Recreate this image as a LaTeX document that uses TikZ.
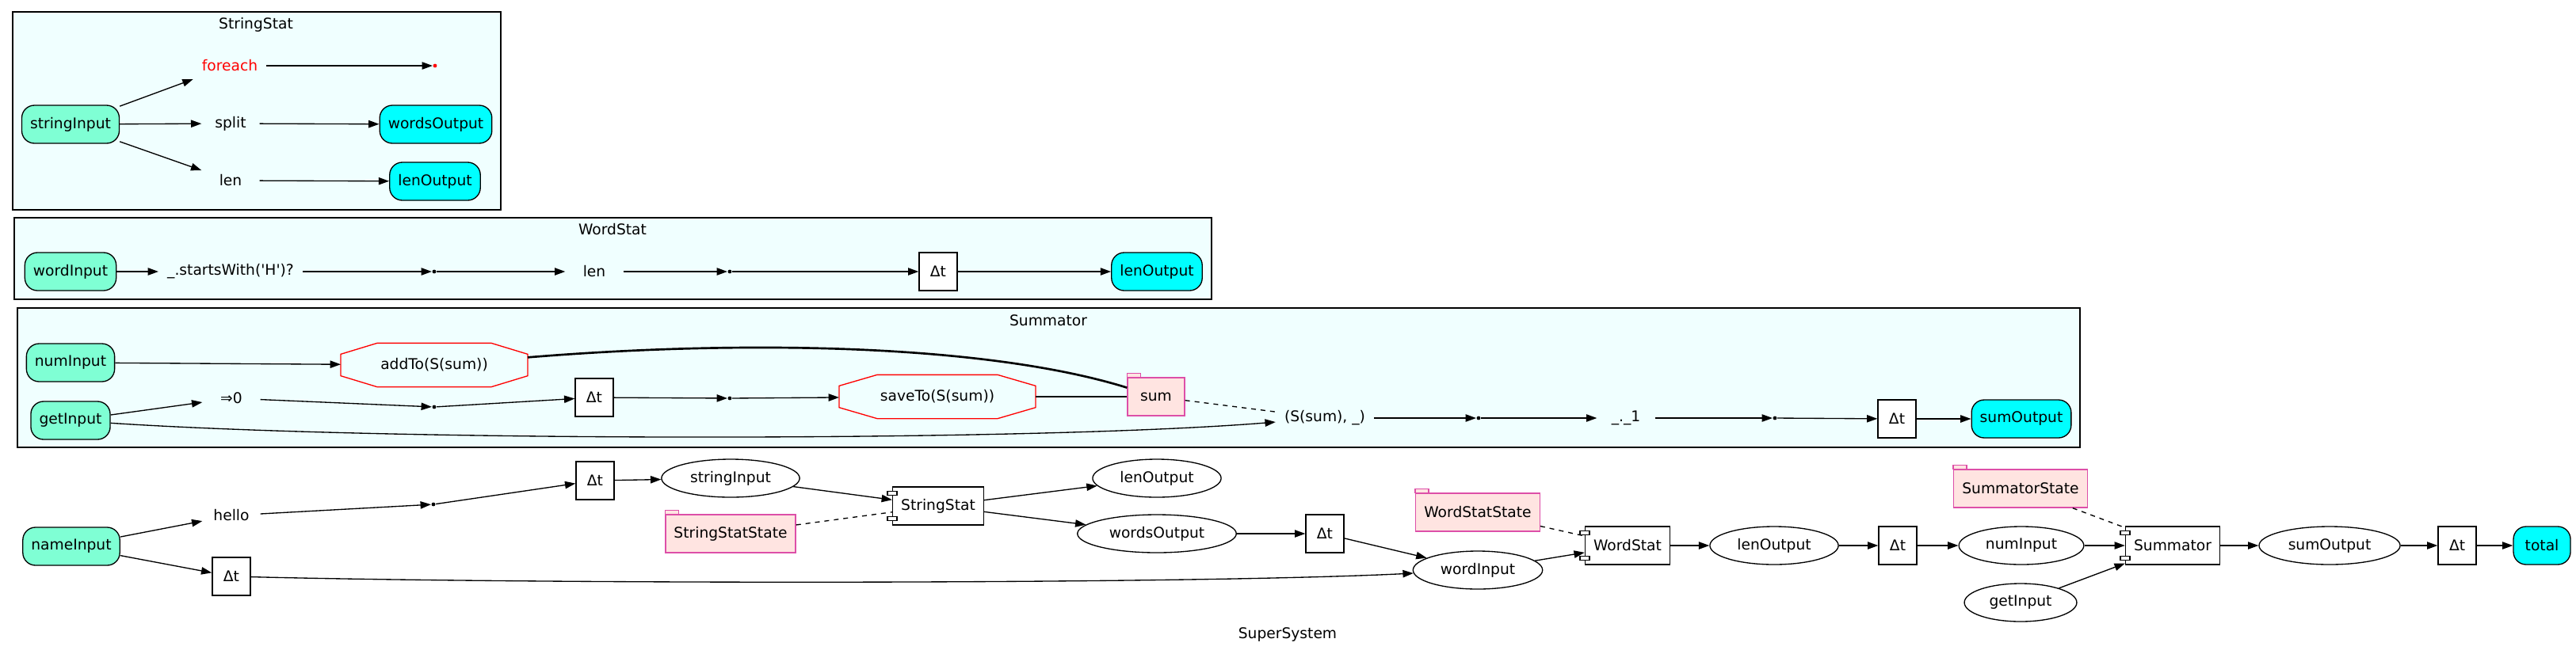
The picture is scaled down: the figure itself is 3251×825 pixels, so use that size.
\documentclass[tikz,border=0pt]{standalone}
\usepackage{fontspec}
\setmainfont{DejaVu Sans}
\usetikzlibrary{arrows.meta,shapes.geometric}
\definecolor{azure}{HTML}{F0FFFF}
\definecolor{aquamarine}{HTML}{7FFFD4}
\definecolor{aqua}{HTML}{00FFFF}
\definecolor{mistyrose}{HTML}{FFE4E1}
\definecolor{statepink}{HTML}{DD4FA8}
\begin{document}
\begin{tikzpicture}[x=0.75bp,y=-0.75bp,line width=1bp,->,>={Triangle[length=10bp,width=7bp]},
  lbl/.style={font=\fontsize{14bp}{16bp}\selectfont},
  txt/.style={lbl,minimum width=54bp,minimum height=36bp,inner xsep=7.92bp,inner ysep=3bp},
  innode/.style={txt,draw,rounded corners=12bp,fill=aquamarine},
  outnode/.style={txt,draw,rounded corners=12bp,fill=aqua},
  delay/.style={txt,draw,fill=white,minimum width=36bp,inner xsep=0pt},
  chan/.style={txt,draw,ellipse,inner xsep=8bp},
  comp/.style={txt,draw,fill=white},
  state/.style={txt,draw=statepink,fill=mistyrose},
  act/.style={txt,minimum height=40.5bp},
  dot/.style={circle,fill=black,inner sep=0pt,minimum size=3.6bp},
  cluster/.style={-,draw,fill=azure},
  strong/.style={-,line width=2bp},
  assoc/.style={-,dash pattern=on 4.5bp off 4.5bp}]
  \useasboundingbox (0,0) rectangle (3251,825);

  % clusters
  \draw[cluster] (16,15) rectangle (632,265);
  \draw[cluster] (18,275) rectangle (1529,378);
  \draw[cluster] (22,389) rectangle (2625,565);
  \node[lbl] (tS) at (323,31) {StringStat};
  \node[lbl] (tW) at (773,290) {WordStat};
  \node[lbl] (tM) at (1323,405) {Summator};

  % StringStat
  \node[innode] (sIn) at (89,157) {stringInput};
  \node[txt,text=red] (sFor) at (290,83) {foreach};
  \node[dot,fill=red] (sEnd) at (549,83) {};
  \node[txt] (sSplit) at (291,156) {split};
  \node[outnode] (sWords) at (550,157) {wordsOutput};
  \node[txt] (sLen) at (291,228) {len};
  \node[outnode] (sLenOut) at (549,229) {lenOutput};
  \draw (sIn)--(sFor);
  \draw (sIn)--(sSplit);
  \draw (sIn)--(sLen);
  \draw (sFor)--(sEnd);
  \draw (sSplit)--(sWords);
  \draw (sLen)--(sLenOut);

  % WordStat
  \node[innode] (wIn) at (89,343) {wordInput};
  \node[txt] (wStarts) at (291,343) {\_.startsWith(\textquotesingle H\textquotesingle)?};
  \node[dot] (wP1) at (548,343) {};
  \node[txt] (wLen) at (750,343) {len};
  \node[dot] (wP2) at (921,343) {};
  \node[delay] (wDt) at (1184,343) {Δt};
  \node[outnode] (wOut) at (1460,343) {lenOutput};
  \draw (wIn)--(wStarts);
  \draw (wStarts)--(wP1);
  \draw (wP1)--(wLen);
  \draw (wLen)--(wP2);
  \draw (wP2)--(wDt);
  \draw (wDt)--(wOut);

  % Summator
  \node[innode] (mNum) at (89,458) {numInput};
  \node[innode] (mGet) at (89,531) {getInput};
  \node[act,minimum width=176bp] (mAdd) at (548,461) {addTo(S(sum))};
  \node[txt] (mZero) at (292,503) {⇒0};
  \node[dot] (mP1) at (548,514) {};
  \node[delay] (mDt) at (750,502) {Δt};
  \node[dot] (mP2) at (921,503) {};
  \node[act,minimum width=185bp] (mSave) at (1183,501) {saveTo(S(sum))};
  \node[state] (mSum) at (1459,501) {sum};
  \node[txt] (mTup) at (1672,528) {(S(sum), \_)};
  \node[dot] (mP3) at (1866,528) {};
  \node[txt] (mSel) at (2052,528) {\_.\_1};
  \node[dot] (mP4) at (2240,528) {};
  \node[delay] (mDt2) at (2394,529) {Δt};
  \node[outnode] (mOut) at (2551,529) {sumOutput};
  \draw[-,red] ([xshift=34.5bp]mAdd.north west)--([xshift=-34.5bp]mAdd.north east)--([yshift=-10.5bp]mAdd.north east)--([yshift=10.5bp]mAdd.south east)--([xshift=-34.5bp]mAdd.south east)--([xshift=34.5bp]mAdd.south west)--([yshift=10.5bp]mAdd.south west)--([yshift=-10.5bp]mAdd.north west)--cycle;
  \draw[-,red] ([xshift=36bp]mSave.north west)--([xshift=-36bp]mSave.north east)--([yshift=-10.5bp]mSave.north east)--([yshift=10.5bp]mSave.south east)--([xshift=-36bp]mSave.south east)--([xshift=36bp]mSave.south west)--([yshift=10.5bp]mSave.south west)--([yshift=-10.5bp]mSave.north west)--cycle;
  \draw[-,draw=statepink,fill=mistyrose] (mSum.north west) rectangle ([shift={(12.75bp,3.75bp)}]mSum.north west);
  \draw (mNum)--(mAdd);
  \draw (mGet)--(mZero);
  \draw (mZero)--(mP1);
  \draw (mP1)--(mDt);
  \draw (mDt)--(mP2);
  \draw (mP2)--(mSave);
  \draw[strong] (mAdd) .. controls (950,428) and (1250,436) .. (mSum);
  \draw[strong] (mSave)--(mSum);
  \draw[assoc] (mSum)--(mTup);
  \draw (mGet) .. controls (500,558) and (1300,558) .. (mTup);
  \draw (mTup)--(mP3);
  \draw (mP3)--(mSel);
  \draw (mSel)--(mP4);
  \draw (mP4)--(mDt2);
  \draw (mDt2)--(mOut);

  % SuperSystem
  \node[innode] (nIn) at (90,690) {nameInput};
  \node[txt] (hello) at (292,651) {hello};
  \node[dot] (p1) at (547,637) {};
  \node[delay] (dtA) at (751,607) {Δt};
  \node[delay] (dtB) at (292,728) {Δt};
  \node[chan] (eStrIn) at (922,604) {stringInput};
  \node[comp] (cStr) at (1184,639) {StringStat};
  \node[state] (stStr) at (922,674) {StringStatState};
  \node[chan] (eLenA) at (1460,604) {lenOutput};
  \node[chan] (eWords) at (1460,674) {wordsOutput};
  \node[delay] (dtC) at (1672,674) {Δt};
  \node[chan] (eWordIn) at (1865,720) {wordInput};
  \node[state] (stWord) at (1865,647) {WordStatState};
  \node[comp] (cWord) at (2054,689) {WordStat};
  \node[chan] (eLenB) at (2239,689) {lenOutput};
  \node[delay] (dtD) at (2395,689) {Δt};
  \node[chan] (eNum) at (2551,689) {numInput};
  \node[chan] (eGet) at (2550,761) {getInput};
  \node[state] (stSum) at (2550,617) {SummatorState};
  \node[comp] (cSum) at (2742,689) {Summator};
  \node[chan] (eSum) at (2940,689) {sumOutput};
  \node[delay] (dtE) at (3101,689) {Δt};
  \node[outnode] (total) at (3208,689) {total};
  \node[lbl] (tSup) at (1625,801) {SuperSystem};
  \draw[-,draw=statepink,fill=mistyrose] (stStr.north west) rectangle ([shift={(12.75bp,3.75bp)}]stStr.north west);
  \draw[-,draw=statepink,fill=mistyrose] (stWord.north west) rectangle ([shift={(12.75bp,3.75bp)}]stWord.north west);
  \draw[-,draw=statepink,fill=mistyrose] (stSum.north west) rectangle ([shift={(12.75bp,3.75bp)}]stSum.north west);
  \draw[-,fill=white] ([shift={(-4.5bp,10.1bp)}]cStr.west) rectangle ([shift={(4.5bp,13.9bp)}]cStr.west);
  \draw[-,fill=white] ([shift={(-4.5bp,-10.1bp)}]cStr.west) rectangle ([shift={(4.5bp,-13.9bp)}]cStr.west);
  \draw[-,fill=white] ([shift={(-4.5bp,10.1bp)}]cWord.west) rectangle ([shift={(4.5bp,13.9bp)}]cWord.west);
  \draw[-,fill=white] ([shift={(-4.5bp,-10.1bp)}]cWord.west) rectangle ([shift={(4.5bp,-13.9bp)}]cWord.west);
  \draw[-,fill=white] ([shift={(-4.5bp,10.1bp)}]cSum.west) rectangle ([shift={(4.5bp,13.9bp)}]cSum.west);
  \draw[-,fill=white] ([shift={(-4.5bp,-10.1bp)}]cSum.west) rectangle ([shift={(4.5bp,-13.9bp)}]cSum.west);
  \draw (nIn)--(hello);
  \draw (nIn)--(dtB);
  \draw (hello)--(p1);
  \draw (p1)--(dtA);
  \draw (dtA)--(eStrIn);
  \draw (eStrIn)--(cStr);
  \draw[assoc] (stStr)--(cStr);
  \draw (cStr)--(eLenA);
  \draw (cStr)--(eWords);
  \draw (eWords)--(dtC);
  \draw (dtC)--(eWordIn);
  \draw (dtB) .. controls (700,738) and (1500,738) .. (eWordIn);
  \draw[assoc] (stWord)--(cWord);
  \draw (eWordIn)--(cWord);
  \draw (cWord)--(eLenB);
  \draw (eLenB)--(dtD);
  \draw (dtD)--(eNum);
  \draw (eNum)--(cSum);
  \draw (eGet)--(cSum);
  \draw[assoc] (stSum)--(cSum);
  \draw (cSum)--(eSum);
  \draw (eSum)--(dtE);
  \draw (dtE)--(total);
\end{tikzpicture}
\end{document}
